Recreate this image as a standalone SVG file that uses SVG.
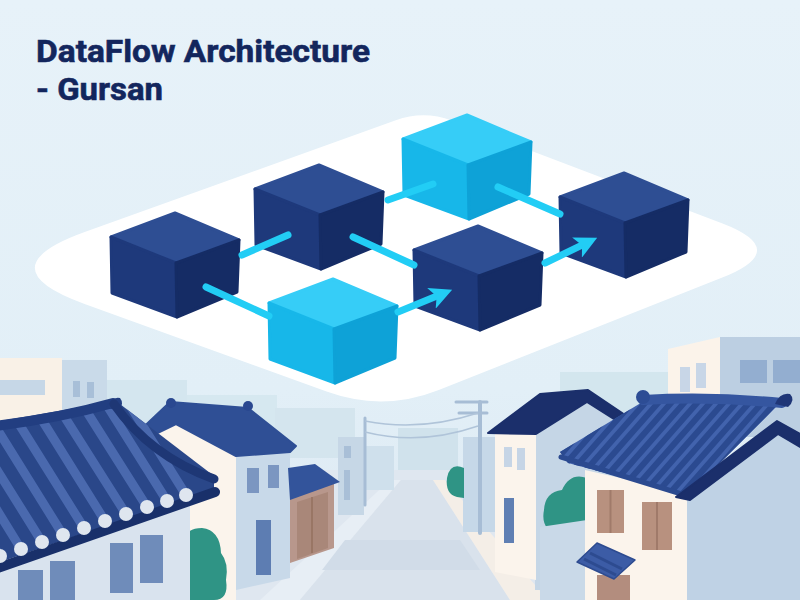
<svg xmlns="http://www.w3.org/2000/svg" width="800" height="600" viewBox="0 0 800 600">
<defs>
<linearGradient id="sky" x1="0" y1="0" x2="0" y2="1">
<stop offset="0" stop-color="#e7f2f9"/>
<stop offset="0.65" stop-color="#e2eff7"/>
<stop offset="1" stop-color="#dce8f2"/>
</linearGradient>
<style>
.dt{fill:#2e4e93;stroke:#2e4e93}
.dl{fill:#1e397b;stroke:#1e397b}
.dr{fill:#152c65;stroke:#152c65}
.lt{fill:#36cdf7;stroke:#36cdf7}
.ll{fill:#17b7e9;stroke:#17b7e9}
.lr{fill:#0ea2d7;stroke:#0ea2d7}
.face{stroke-width:3;stroke-linejoin:round}
.conn{stroke:#22cdf5;stroke-width:7;stroke-linecap:round;fill:none}
.title{font-family:Roboto,"Liberation Sans",sans-serif;font-weight:700;font-size:32px;fill:#13265d;stroke:#13265d;stroke-width:0.6}
.tileL{stroke:#4a69ae;stroke-width:9;stroke-linecap:round}
.tileR{stroke:#2b4a90;stroke-width:6}
.cap{fill:#dfe6ef}
.teal{fill:#2f9485}
.wire{stroke:#b0c4d9;stroke-width:1.5;fill:none}
.pole{stroke:#a7bdd5;stroke-linecap:round}
</style>
<marker id="arrow" viewBox="0 0 10 10" refX="5" refY="5" markerWidth="3.2" markerHeight="3.2" orient="auto" markerUnits="strokeWidth">
<path d="M0,0 L10,5 L0,10 L2.5,5 Z" fill="#22cdf5"/>
</marker>
<g id="cubeDark">
<polygon class="dt face" points="0,0 64,27 1,50 -64,24"/>
<polygon class="dl face" points="-64,24 1,50 2,104 -63,80"/>
<polygon class="dr face" points="1,50 64,27 62,79 2,104"/>
</g>
<g id="cubeLight">
<polygon class="lt face" points="0,0 64,27 1,50 -64,24"/>
<polygon class="ll face" points="-64,24 1,50 2,104 -63,80"/>
<polygon class="lr face" points="1,50 64,27 62,79 2,104"/>
</g>
<clipPath id="roofLclip"><polygon points="0,421 116,401 214,476 214,489 0,562"/></clipPath>
<clipPath id="roofRclip"><polygon points="560,452 644,401 779,404 688,495 568,463"/></clipPath>
</defs>

<rect width="800" height="600" fill="url(#sky)"/>

<!-- title -->
<text class="title" x="36" y="62" textLength="334" lengthAdjust="spacingAndGlyphs">DataFlow Architecture</text>
<text class="title" x="36" y="100" textLength="127" lengthAdjust="spacingAndGlyphs">- Gursan</text>

<!-- town scene -->
<g id="town">
<!-- far buildings -->
<rect x="107" y="380" width="80" height="70" fill="#d4e6ef"/>
<rect x="187" y="395" width="90" height="60" fill="#d6e8f0"/>
<rect x="275" y="408" width="80" height="50" fill="#d4e5ee"/>
<rect x="560" y="372" width="108" height="70" fill="#d3e6ee"/>
<rect x="398" y="428" width="60" height="55" fill="#d0e2ec"/>
<!-- left back building -->
<rect x="0" y="358" width="62" height="100" fill="#f9f1e7"/>
<rect x="0" y="380" width="45" height="15" fill="#c6d7e7"/>
<rect x="62" y="360" width="45" height="100" fill="#c9dae9"/>
<rect x="73" y="381" width="7" height="16" fill="#a8bfd8"/>
<rect x="87" y="382" width="7" height="16" fill="#a8bfd8"/>
<!-- right tall building -->
<polygon points="668,349 720,337 720,430 668,430" fill="#fbf3ea"/>
<rect x="720" y="337" width="80" height="100" fill="#bccfe2"/>
<rect x="680" y="367" width="10" height="25" fill="#c8d6e7"/>
<rect x="696" y="363" width="10" height="25" fill="#c8d6e7"/>
<rect x="740" y="360" width="27" height="23" fill="#93aed0"/>
<rect x="773" y="360" width="27" height="23" fill="#93aed0"/>

<!-- ground and road -->
<polygon points="200,470 570,470 570,600 200,600" fill="#dfe7f0"/>
<polygon points="390,480 401,480 300,600 260,600" fill="#e7eef5"/>
<polygon points="401,480 433,480 510,600 300,600" fill="#d9e2ec"/>
<polygon points="345,540 460,540 480,570 322,570" fill="#d1dce8"/>
<polygon points="433,480 445,480 548,600 510,600" fill="#f4eee7"/>

<!-- pale buildings along street -->
<rect x="338" y="437" width="26" height="78" fill="#c6d7e6"/>
<rect x="344" y="446" width="7" height="12" fill="#a9bfd7"/>
<rect x="344" y="470" width="6" height="30" fill="#a9bfd7"/>
<rect x="366" y="446" width="28" height="44" fill="#cfe0ec"/>
<rect x="463" y="437" width="34" height="95" fill="#c6d8e8"/>

<!-- poles and wires -->
<line class="pole" x1="365" y1="418" x2="365" y2="505" stroke-width="3"/>
<line class="pole" x1="480" y1="402" x2="480" y2="533" stroke-width="4"/>
<line class="pole" x1="456" y1="402" x2="487" y2="402" stroke-width="3"/>
<line class="pole" x1="459" y1="413" x2="487" y2="413" stroke-width="3"/>
<path class="wire" d="M365,421 Q420,432 478,413"/>
<path class="wire" d="M365,432 Q420,446 478,426"/>

<!-- house 2 (center-left) -->
<polygon points="141,441 176,424 236,456 236,600 141,600" fill="#fbf4ec"/>
<polygon points="236,456 290,452 290,578 236,590" fill="#c8d9e9"/>
<rect x="247" y="468" width="12" height="25" fill="#7b96c1"/>
<rect x="268" y="465" width="11" height="23" fill="#7b96c1"/>
<rect x="256" y="520" width="15" height="55" fill="#5d7db2"/>
<polygon points="133,437 170,402 248,408 296,446 290,452 236,456 176,424 141,441" fill="#2f4f95" stroke="#2f4f95" stroke-width="2" stroke-linejoin="round"/>
<circle cx="171" cy="403" r="5" fill="#2a4890"/>
<circle cx="248" cy="406" r="5" fill="#2a4890"/>

<!-- garage -->
<polygon points="290,498 334,483 334,548 290,563" fill="#b8978c"/>
<polygon points="297,502 328,492 328,548 297,559" fill="#a98779"/>
<line x1="312" y1="497" x2="312" y2="553" stroke="#95705f" stroke-width="1.5"/>
<polygon points="288,468 315,464 340,482 290,500" fill="#33549b"/>

<!-- left tree -->
<path class="teal" d="M185,600 L185,540 Q186,528 202,528 Q220,530 221,553 Q229,563 226,580 Q229,600 214,600 Z"/>

<!-- left hanok -->
<polygon points="0,572 190,505 190,600 0,600" fill="#d9e3ee"/>
<rect x="18" y="570" width="25" height="30" fill="#6f8cba"/>
<rect x="50" y="561" width="25" height="39" fill="#6f8cba"/>
<rect x="110" y="543" width="23" height="50" fill="#6f8cba"/>
<rect x="140" y="535" width="23" height="48" fill="#6f8cba"/>
<polygon points="0,421 116,401 214,476 214,489 0,562" fill="#2a4789"/>
<g clip-path="url(#roofLclip)">
<line class="tileL" x1="-71" y1="441" x2="0" y2="556"/>
<line class="tileL" x1="-48" y1="437" x2="21" y2="549"/>
<line class="tileL" x1="-26" y1="433" x2="42" y2="542"/>
<line class="tileL" x1="-3" y1="429" x2="63" y2="535"/>
<line class="tileL" x1="19" y1="424" x2="84" y2="528"/>
<line class="tileL" x1="42" y1="420" x2="105" y2="521"/>
<line class="tileL" x1="64" y1="416" x2="126" y2="514"/>
<line class="tileL" x1="87" y1="412" x2="147" y2="507"/>
<line class="tileL" x1="108" y1="407" x2="167" y2="501"/>
<line class="tileL" x1="129" y1="404" x2="186" y2="495"/>
</g>
<path d="M-5,426 Q60,418 113,403" stroke="#223e81" stroke-width="10" fill="none" stroke-linecap="round"/>
<path d="M106,408 Q112,396 120,398 Q125,404 118,410 Z" fill="#223e81"/>
<path d="M114,404 Q150,456 214,479" stroke="#1e3775" stroke-width="9" fill="none" stroke-linecap="round"/>
<line x1="-5" y1="569" x2="215" y2="492" stroke="#19306a" stroke-width="10" stroke-linecap="round"/>
<circle class="cap" cx="0" cy="556" r="7"/>
<circle class="cap" cx="21" cy="549" r="7"/>
<circle class="cap" cx="42" cy="542" r="7"/>
<circle class="cap" cx="63" cy="535" r="7"/>
<circle class="cap" cx="84" cy="528" r="7"/>
<circle class="cap" cx="105" cy="521" r="7"/>
<circle class="cap" cx="126" cy="514" r="7"/>
<circle class="cap" cx="147" cy="507" r="7"/>
<circle class="cap" cx="167" cy="501" r="7"/>
<circle class="cap" cx="186" cy="495" r="7"/>

<!-- small tree near pole -->
<path class="teal" d="M464,468 Q450,462 447,478 Q445,494 457,497 L464,498 Z"/>

<!-- house 3 (center-right) -->
<polygon points="535,434 586,396 630,425 630,590 535,590" fill="#c5d6e6"/>
<polygon points="495,434 536,434 536,580 495,572" fill="#fbf4ec"/>
<rect x="504" y="447" width="8" height="20" fill="#c6d5e6"/>
<rect x="517" y="448" width="8" height="22" fill="#c6d5e6"/>
<rect x="504" y="498" width="10" height="45" fill="#5f7fb3"/>
<polygon points="488,433 540,394 588,390 634,421 628,428 587,402 536,434" fill="#1b2f6b" stroke="#1b2f6b" stroke-width="2" stroke-linejoin="round"/>
<path class="teal" d="M587,478 Q570,472 562,490 Q545,492 544,510 Q540,530 560,536 L587,537 Z"/>
<polygon points="540,527 587,520 587,600 540,600" fill="#c9d9e8"/>

<!-- right hanok -->
<polygon points="687,493 779,425 800,438 800,600 687,600" fill="#bfd2e5"/>
<polygon points="585,470 687,493 687,600 585,600" fill="#fbf4ec"/>
<rect x="597" y="490" width="27" height="43" fill="#b8917f"/>
<line x1="610.5" y1="490" x2="610.5" y2="533" stroke="#a07a6a" stroke-width="2"/>
<rect x="642" y="502" width="30" height="48" fill="#b8917f"/>
<line x1="657" y1="502" x2="657" y2="550" stroke="#a07a6a" stroke-width="2"/>
<rect x="597" y="575" width="33" height="25" fill="#b38d7e"/>
<polygon points="577,562 597,543 635,560 614,579" fill="#3c5ca6" stroke="#2d4b90" stroke-width="1.5" stroke-linejoin="round"/>
<line x1="590" y1="553" x2="622" y2="569" stroke="#2d4b90" stroke-width="3"/>
<line x1="584" y1="559" x2="616" y2="575" stroke="#2d4b90" stroke-width="3"/>
<polygon points="560,452 644,401 779,404 688,495 568,463" fill="#4263ad"/>
<g clip-path="url(#roofRclip)">
<line class="tileR" x1="600" y1="395" x2="514" y2="493"/>
<line class="tileR" x1="613" y1="395" x2="527" y2="493"/>
<line class="tileR" x1="626" y1="395" x2="540" y2="493"/>
<line class="tileR" x1="639" y1="395" x2="553" y2="493"/>
<line class="tileR" x1="652" y1="395" x2="566" y2="493"/>
<line class="tileR" x1="665" y1="395" x2="579" y2="493"/>
<line class="tileR" x1="678" y1="395" x2="592" y2="493"/>
<line class="tileR" x1="691" y1="395" x2="605" y2="493"/>
<line class="tileR" x1="704" y1="395" x2="618" y2="493"/>
<line class="tileR" x1="717" y1="395" x2="631" y2="493"/>
<line class="tileR" x1="730" y1="395" x2="644" y2="493"/>
<line class="tileR" x1="743" y1="395" x2="657" y2="493"/>
<line class="tileR" x1="756" y1="395" x2="670" y2="493"/>
<line class="tileR" x1="769" y1="395" x2="683" y2="493"/>
<line class="tileR" x1="782" y1="395" x2="696" y2="493"/>
</g>
<line x1="561" y1="457" x2="688" y2="496" stroke="#2b4a90" stroke-width="5" stroke-linecap="round"/>
<path d="M643,400 Q710,396 782,403" stroke="#3556a0" stroke-width="10" fill="none" stroke-linecap="round"/>
<circle cx="643" cy="397" r="7" fill="#2d4d95"/>
<path d="M775,404 Q780,392 790,394 Q796,400 788,407 Z" fill="#1f3677"/>
<polygon points="676,497 777,421 800,434 800,447 778,434 690,500" fill="#1b2f6b" stroke="#1b2f6b" stroke-width="2" stroke-linejoin="round"/>
</g>

<!-- floating platform -->
<path id="platform" d="M84.7,232.1 L395.8,120.2 Q424,110 452,120.7 L721.9,223.3 Q792,250 722.3,277.6 L438.8,389.9 Q383,412 326.6,391.6 L84.6,304 Q-15,268 84.7,232.1 Z" fill="#ffffff"/>

<!-- nodes -->
<g id="node-1" transform="translate(175,213)"><use href="#cubeDark"/></g>
<g id="node-2" transform="translate(319,165)"><use href="#cubeDark"/></g>
<g id="node-3" transform="translate(467,115)"><use href="#cubeLight"/></g>
<g id="node-4" transform="translate(624,173)"><use href="#cubeDark"/></g>
<g id="node-5" transform="translate(478,226)"><use href="#cubeDark"/></g>
<g id="node-6" transform="translate(333,279)"><use href="#cubeLight"/></g>

<!-- connectors -->
<g id="connectors">
<line class="conn" x1="242" y1="255" x2="288" y2="235"/>
<line class="conn" x1="388" y1="200" x2="433" y2="184"/>
<line class="conn" x1="353" y1="237" x2="414" y2="265"/>
<line class="conn" x1="498" y1="187" x2="560" y2="214"/>
<line class="conn" x1="206" y1="287" x2="269" y2="316"/>
<line class="conn" x1="398" y1="312" x2="441.8" y2="294.1" marker-end="url(#arrow)"/>
<line class="conn" x1="545" y1="263" x2="587.1" y2="242.7" marker-end="url(#arrow)"/>
</g>
</svg>
